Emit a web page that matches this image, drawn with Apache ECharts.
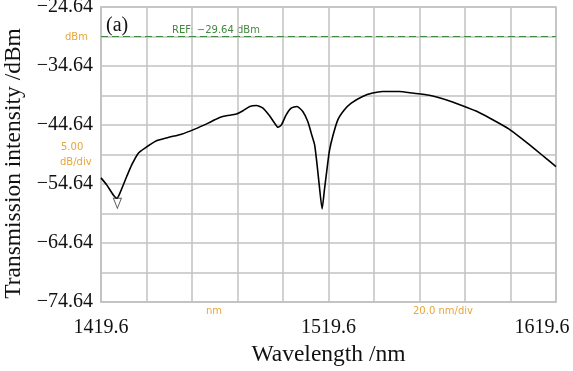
<!DOCTYPE html>
<html>
<head>
<meta charset="utf-8">
<script src="https://cdn.jsdelivr.net/npm/echarts@6/dist/echarts.min.js"></script>
<style>
  html, body { margin: 0; padding: 0; background: #ffffff; }
  #chart { width: 573px; height: 371px; }
</style>
</head>
<body>
<div id="chart"></div>
<script>
// Wavelength (nm) and transmission intensity (dBm)
const wavelength = [1419.6, 1422.1, 1425.0, 1426.6, 1427.9, 1430.9, 1433.1, 1436.0, 1438.9, 1444.0,
  1449.1, 1455.0, 1460.8, 1466.7, 1469.6, 1471.8, 1474.7, 1479.1, 1482.0, 1485.0,
  1487.9, 1490.8, 1493.7, 1495.9, 1497.4, 1498.9, 1501.0, 1503.2, 1505.7, 1508.3,
  1510.5, 1512.0, 1513.5, 1514.5, 1515.6, 1516.8, 1517.8, 1518.9, 1520.0, 1521.5,
  1523.7, 1526.6, 1529.6, 1534.6, 1539.0, 1543.4, 1550.7, 1556.6, 1563.9,
  1571.2, 1578.5, 1585.8, 1593.2, 1599.0, 1604.8, 1610.7, 1615.1, 1619.6];
const intensity = [-53.60, -54.79, -56.49, -57.05, -56.20, -53.38, -51.40, -49.41, -48.56, -47.32,
  -46.76, -46.19, -45.34, -44.32, -43.76, -43.37, -43.08, -42.79, -42.23, -41.50,
  -41.33, -41.78, -43.08, -44.32, -45.03, -44.61, -42.91, -41.78, -41.50, -42.35,
  -44.05, -46.02, -48.00, -51.11, -55.08, -58.86, -55.64, -52.24, -49.02, -46.50,
  -43.76, -42.06, -40.93, -39.81, -39.23, -38.96, -38.96, -39.23, -39.60,
  -40.37, -41.39, -42.52, -44.05, -45.34, -47.04, -48.85, -50.26, -51.68];

// Marker (open triangle) near the first dip
const markerWavelength = [1426.8];
const markerIntensity = [-57.9];

// Axis ranges and tick labels
const xStart = 1419.6, xEnd = 1619.6, xStep = 20;   // 20.0 nm/div
const yStart = -74.64, yEnd = -24.64, yStep = 5;    // 5.00 dB/div
const refLevel = -29.64;
const xTickLabels = ['1419.6', '1519.6', '1619.6'];
const yTickLabels = ['\u221274.64', '\u221264.64', '\u221254.64', '\u221244.64', '\u221234.64', '\u221224.64'];

const gridColor = '#c2c2c2';
const orange = '#e8a53c';
const green = '#3f8a3f';
const serif = '"Liberation Serif", "Times New Roman", serif';
const sans = '"DejaVu Sans", "Liberation Sans", sans-serif';

const lineData = wavelength.map((w, i) => [w - xStart, intensity[i] - yStart]);
const markerData = markerWavelength.map((w, i) => [w - xStart, markerIntensity[i] - yStart]);

const chart = echarts.init(document.getElementById('chart'), null, { renderer: 'canvas' });
chart.setOption({
  backgroundColor: '#ffffff',
  animation: false,
  grid: { left: 101, right: 17, top: 7, bottom: 69, containLabel: false, outerBoundsMode: 'none',
    show: true, borderColor: gridColor, borderWidth: 1.5 },
  xAxis: {
    type: 'value', min: 0, max: xEnd - xStart, interval: xStep,
    name: 'Wavelength /nm', nameLocation: 'middle', nameGap: 41,
    nameTextStyle: { fontFamily: serif, fontSize: 23.5, color: '#111' },
    axisLine: { show: true, lineStyle: { color: gridColor, width: 1.5 } },
    axisTick: { show: false },
    splitLine: { show: true, lineStyle: { color: gridColor, width: 1.5 } },
    axisLabel: {
      margin: 16, fontFamily: serif, fontSize: 20, color: '#111',
      formatter: function (v) {
        const r = Math.round(v);
        if (r % 100 !== 0) return '';
        const idx = r / 100;
        const t = xTickLabels[idx];
        return idx === xTickLabels.length - 1 ? '{r|' + t + '}' : t;
      },
      rich: { r: { fontFamily: serif, fontSize: 20, color: '#111', padding: [0, 28, 0, 0] } }
    }
  },
  yAxis: {
    type: 'value', min: 0, max: yEnd - yStart, interval: yStep,
    name: 'Transmission intensity /dBm', nameLocation: 'middle', nameGap: 62,
    nameTextStyle: { fontFamily: serif, fontSize: 23.5, color: '#111', padding: [0, 18, 0, 0] },
    axisLine: { show: true, lineStyle: { color: gridColor, width: 1.5 } },
    axisTick: { show: false },
    splitLine: { show: true, lineStyle: { color: gridColor, width: 1.5 } },
    axisLabel: {
      margin: 8, fontFamily: serif, fontSize: 20, color: '#111', padding: [4, 0, 0, 0],
      formatter: function (v) {
        const r = Math.round(v);
        return r % 10 === 0 ? yTickLabels[r / 10] : '';
      }
    }
  },
  series: [
    {
      type: 'line', data: lineData, showSymbol: false, smooth: 0.2,
      lineStyle: { color: '#000', width: 1.6 },
      markLine: {
        silent: true, symbol: 'none', label: { show: false },
        lineStyle: { color: green, type: [7, 4], width: 1 },
        data: [{ yAxis: refLevel - yStart }]
      },
      z: 3
    },
    {
      type: 'scatter', data: markerData, symbol: 'triangle', symbolRotate: 180, symbolSize: [8, 10],
      itemStyle: { color: 'rgba(0,0,0,0)', borderColor: '#333', borderWidth: 1 }, z: 4
    }
  ],
  graphic: [
    { type: 'text', left: 106, top: 16, style: { text: '(a)', font: '20px ' + serif, fill: '#111' } },
    { type: 'text', left: 172, top: 25, style: { text: 'REF: \u221229.64 dBm', font: '10px ' + sans, fill: green } },
    { type: 'text', left: 65, top: 32, style: { text: 'dBm', font: '10px ' + sans, fill: orange } },
    { type: 'text', left: 61, top: 142, style: { text: '5.00', font: '10px ' + sans, fill: orange } },
    { type: 'text', left: 60, top: 157, style: { text: 'dB/div', font: '10px ' + sans, fill: orange } },
    { type: 'text', left: 206, top: 306, style: { text: 'nm', font: '10px ' + sans, fill: orange } },
    { type: 'text', left: 413, top: 306, style: { text: '20.0 nm/div', font: '10px ' + sans, fill: orange } }
  ]
});
</script>
</body>
</html>
